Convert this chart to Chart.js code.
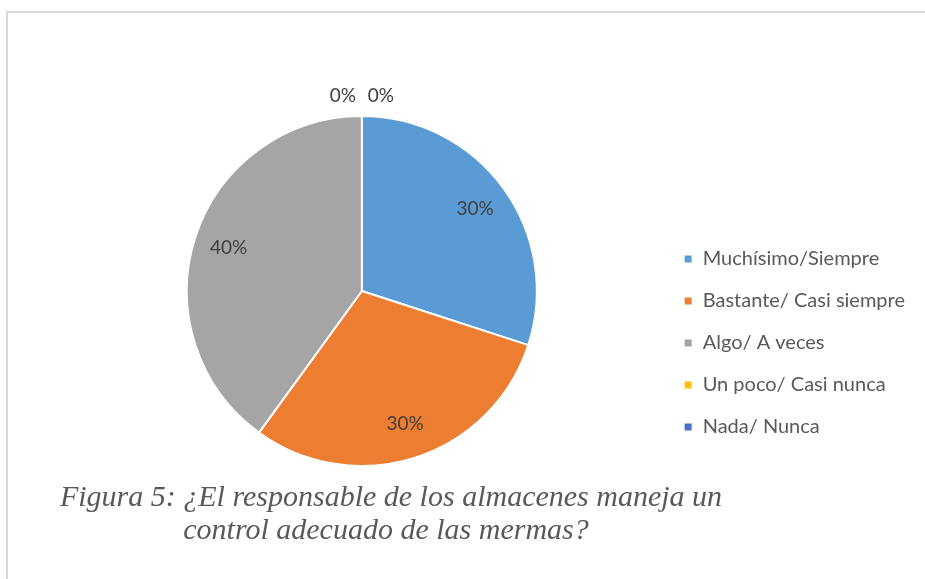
<!DOCTYPE html>
<html>
<head>
<meta charset="utf-8">
<script src="https://cdn.jsdelivr.net/npm/chart.js@4"></script>
<style>
  body { margin: 0; background: #fff; width: 925px; height: 579px; overflow: hidden; position: relative; }
  #frame { position: absolute; left: 6px; top: 11px; width: 940px; height: 600px;
           border-top: 2px solid #d9d9d9; border-left: 2px solid #d9d9d9; }
  #wrap { position: absolute; left: 0; top: 0; width: 925px; height: 480px; }
  #caption { position: absolute; left: 21px; top: 479px; width: 740px; text-align: center;
             white-space: nowrap;
             font-family: "Liberation Serif", serif; font-style: italic; font-size: 30px;
             line-height: 33px; color: #595959; }
  #caption span { position: relative; left: -5px; }
</style>
</head>
<body>
<div id="frame"></div>
<div id="wrap"><canvas id="pie"></canvas></div>
<div id="caption">Figura 5: ¿El responsable de los almacenes maneja un<br><span>control adecuado de las mermas?</span></div>
<script>
const categories = ['Muchísimo/Siempre', 'Bastante/ Casi siempre', 'Algo/ A veces', 'Un poco/ Casi nunca', 'Nada/ Nunca'];
const values = [30, 30, 40, 0, 0];
const colors = ['#5B9BD5', '#ED7D31', '#A5A5A5', '#FFC000', '#4472C4'];

// percent labels, Excel style: inside at ~0.8r, zero slices above the top
const pctLabels = {
  id: 'pctLabels',
  afterDatasetsDraw(chart) {
    const ctx = chart.ctx;
    const meta = chart.getDatasetMeta(0);
    const total = values.reduce((a, b) => a + b, 0);
    ctx.save();
    ctx.font = '19px Lato';
    ctx.fillStyle = '#404040';
    ctx.textAlign = 'center';
    ctx.textBaseline = 'middle';
    let zeroIdx = 0;
    meta.data.forEach((arc, i) => {
      const p = arc.getProps(['x', 'y', 'startAngle', 'endAngle', 'outerRadius'], true);
      const txt = Math.round(values[i] / total * 100) + '%';
      if (values[i] === 0) {
        const side = zeroIdx === 0 ? -1 : 1;
        ctx.fillText(txt, p.x + side * 19, p.y - p.outerRadius - 20);
        zeroIdx++;
        return;
      }
      const mid = (p.startAngle + p.endAngle) / 2;
      const r = p.outerRadius * 0.8;
      ctx.fillText(txt, p.x + Math.cos(mid) * r, p.y + Math.sin(mid) * r);
    });
    ctx.restore();
  }
};

new Chart(document.getElementById('pie').getContext('2d'), {
  type: 'pie',
  data: {
    labels: categories,
    datasets: [{
      data: values,
      backgroundColor: colors,
      borderColor: '#ffffff',
      borderWidth: 2
    }]
  },
  options: {
    responsive: true,
    maintainAspectRatio: false,
    animation: false,
    layout: { padding: { top: 115, bottom: 13, left: 62, right: 10 } },
    plugins: {
      tooltip: { enabled: false },
      legend: {
        position: 'right',
        align: 'start',
        // empty title only used to push the items down
        title: { display: true, text: ' ', font: { size: 10 }, padding: { top: 100, bottom: 0 } },
        labels: {
          boxWidth: 9,
          boxHeight: 9,
          padding: 22,
          color: '#595959',
          font: { family: 'Lato', size: 20 }
        }
      }
    }
  },
  plugins: [pctLabels]
});
</script>
</body>
</html>
